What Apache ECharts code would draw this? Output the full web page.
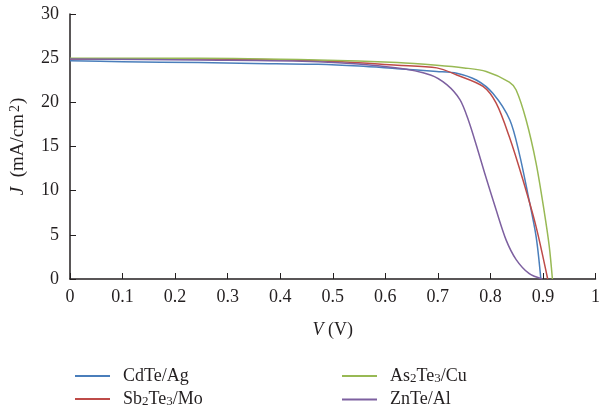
<!DOCTYPE html>
<html>
<head>
<meta charset="utf-8">
<script src="https://cdn.jsdelivr.net/npm/echarts@6/dist/echarts.min.js"></script>
<style>
  html, body { margin: 0; padding: 0; background: #fff; }
  #chart { width: 603px; height: 415px; }
</style>
</head>
<body>
<div id="chart"></div>
<script>
// J-V curves, voltage (V) and current density (mA/cm2)
var cdteV = [0, 0.1, 0.245, 0.35, 0.472, 0.55, 0.623, 0.698, 0.736, 0.774, 0.805, 0.837, 0.855, 0.871, 0.887, 0.896];
var cdteJ = [24.7, 24.6, 24.5, 24.4, 24.3, 24.1, 23.8, 23.5, 23.3, 22.5, 21.0, 18.0, 14.2, 9.7, 4.8, 0];

var as2te3V = [0, 0.245, 0.472, 0.623, 0.698, 0.75, 0.792, 0.836, 0.849, 0.868, 0.887, 0.902, 0.912, 0.918];
var as2te3J = [25.0, 25.0, 24.8, 24.5, 24.2, 23.9, 23.5, 22.3, 21.4, 18.0, 13.1, 7.8, 3.7, 0];

var sb2te3V = [0, 0.245, 0.472, 0.623, 0.698, 0.736, 0.786, 0.811, 0.836, 0.862, 0.887, 0.909];
var sb2te3J = [24.9, 24.9, 24.7, 24.2, 23.9, 23.1, 21.8, 19.9, 16.1, 11.2, 5.9, 0];

var znteV = [0, 0.245, 0.472, 0.623, 0.686, 0.717, 0.742, 0.758, 0.774, 0.789, 0.811, 0.830, 0.849, 0.874, 0.899];
var znteJ = [24.9, 24.8, 24.6, 23.9, 23.1, 22.0, 20.3, 18.0, 15.0, 12.0, 7.8, 4.4, 2.2, 0.6, 0];

var seriesNames = ['CdTe/Ag', 'Sb2Te3/Mo', 'As2Te3/Cu', 'ZnTe/Al'];
var seriesColors = ['#4a7ebb', '#be4b48', '#98b954', '#7d60a0'];

function pairs(xs, ys) {
    return xs.map(function(x, i) { return [x, ys[i]]; });
}

var legendLabels = {
    'CdTe/Ag': 'CdTe/Ag',
    'Sb2Te3/Mo': 'Sb{sub|2}Te{sub|3}/Mo',
    'As2Te3/Cu': 'As{sub|2}Te{sub|3}/Cu',
    'ZnTe/Al': 'ZnTe/Al'
};

var font = '"Liberation Serif", "DejaVu Serif", serif';
var ink = '#231f20';
var legendText = {
    fontFamily: font,
    fontSize: 18,
    color: ink,
    padding: [0, 0, 0, 8],
    rich: {
        sub: { fontFamily: font, fontSize: 13, color: ink, verticalAlign: 'bottom', padding: [6, 0, 0, 0] }
    }
};

var myChart = echarts.init(document.getElementById('chart'));

function makeSeries(name, xs, ys) {
    var idx = seriesNames.indexOf(name);
    return {
        name: name,
        type: 'line',
        data: pairs(xs, ys),
        smooth: 0.3,
        showSymbol: false,
        symbol: 'none',
        lineStyle: { width: 1.5, color: seriesColors[idx] },
        itemStyle: { color: seriesColors[idx] }
    };
}

var option = {
    animation: false,
    backgroundColor: '#fff',
    grid: {
        left: 70,
        right: 4,
        top: 14,
        bottom: 136
    },
    legend: [{
        data: ['CdTe/Ag', 'Sb2Te3/Mo'],
        orient: 'vertical',
        left: 70,
        top: 362,
        itemWidth: 35,
        itemHeight: 2,
        itemGap: 5,
        icon: 'rect',
        formatter: function(n) { return legendLabels[n]; },
        textStyle: legendText
    }, {
        data: ['As2Te3/Cu', 'ZnTe/Al'],
        orient: 'vertical',
        left: 337,
        top: 362,
        itemWidth: 35,
        itemHeight: 2,
        itemGap: 5,
        icon: 'rect',
        formatter: function(n) { return legendLabels[n]; },
        textStyle: legendText
    }],
    xAxis: {
        type: 'value',
        min: 0,
        max: 1,
        interval: 0.1,
        name: '{i|V} (V)',
        nameLocation: 'middle',
        nameGap: 42,
        nameTextStyle: {
            fontFamily: font,
            fontSize: 18,
            color: ink,
            rich: { i: { fontFamily: font, fontSize: 18, fontStyle: 'italic', color: ink } }
        },
        axisLine: { lineStyle: { color: ink, width: 1.5 } },
        axisTick: { inside: true, length: 6, lineStyle: { color: ink } },
        axisLabel: { fontFamily: font, fontSize: 18, color: ink, margin: 9 },
        splitLine: { show: false }
    },
    yAxis: {
        type: 'value',
        min: 0,
        max: 30,
        interval: 5,
        name: '{i|J}  (mA/cm{sup|2})',
        nameLocation: 'middle',
        nameGap: 42,
        nameRotate: 90,
        nameTextStyle: {
            fontFamily: font,
            fontSize: 19,
            color: ink,
            rich: {
                i: { fontFamily: font, fontSize: 19, fontStyle: 'italic', color: ink },
                sup: { fontFamily: font, fontSize: 14, color: ink, verticalAlign: 'top', padding: [0, 1, 6, 2] }
            }
        },
        axisLine: { show: true, lineStyle: { color: ink, width: 1.5 } },
        axisTick: { show: true, inside: true, length: 6, lineStyle: { color: ink } },
        axisLabel: { fontFamily: font, fontSize: 18, color: ink, margin: 11 },
        splitLine: { show: false }
    },
    series: [
        makeSeries('CdTe/Ag', cdteV, cdteJ),
        makeSeries('Sb2Te3/Mo', sb2te3V, sb2te3J),
        makeSeries('As2Te3/Cu', as2te3V, as2te3J),
        makeSeries('ZnTe/Al', znteV, znteJ)
    ]
};

myChart.setOption(option);
</script>
</body>
</html>
